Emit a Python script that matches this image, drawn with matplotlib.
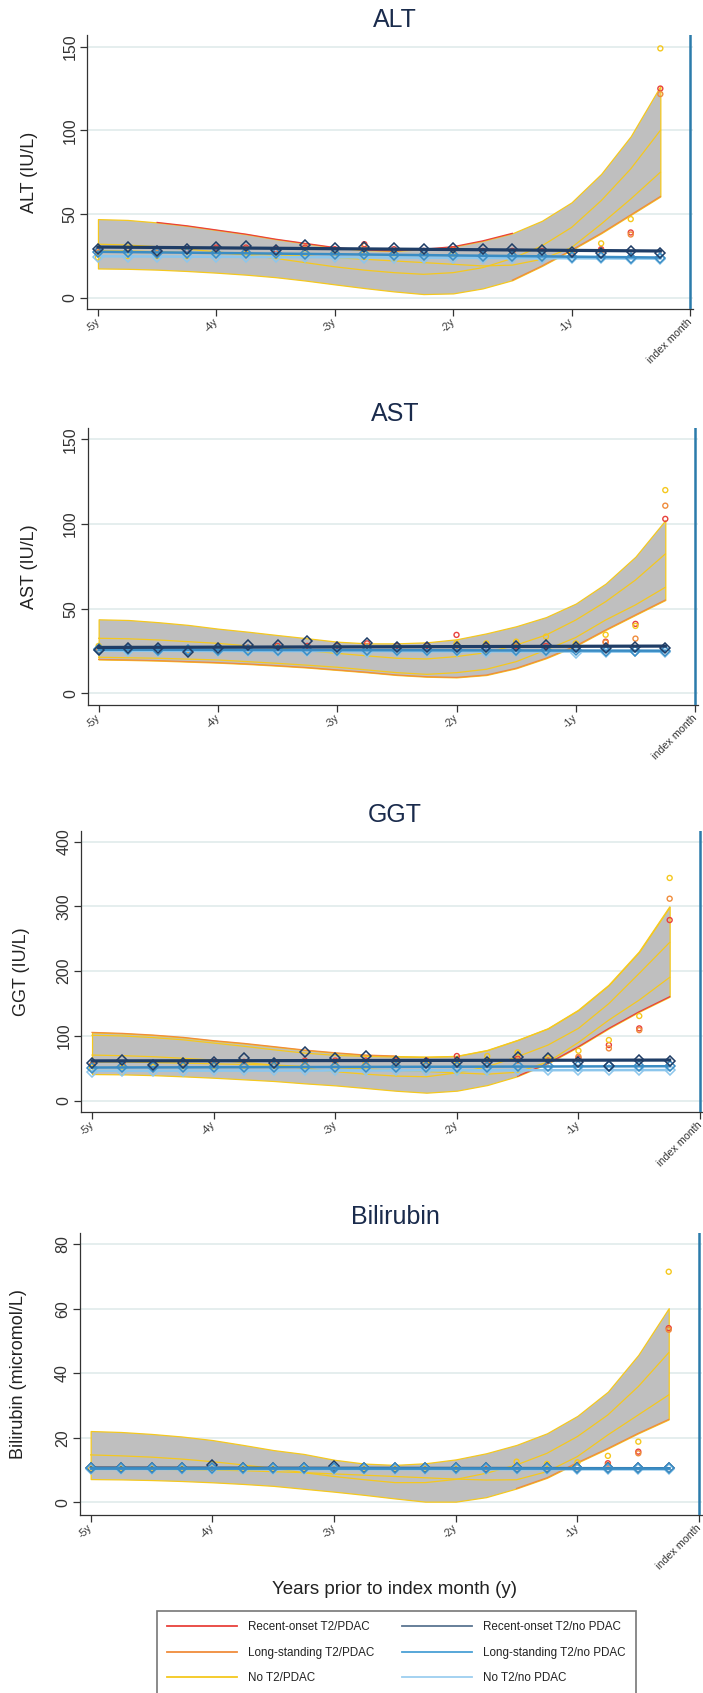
import numpy as np
import matplotlib
matplotlib.use("Agg")
import matplotlib.pyplot as plt
from matplotlib.lines import Line2D

plt.rcParams['font.family'] = ['Liberation Sans', 'DejaVu Sans']

# quarters before the index month (years)
years = [-5.0, -4.75, -4.5, -4.25, -4.0, -3.75, -3.5, -3.25, -3.0, -2.75,
         -2.5, -2.25, -2.0, -1.75, -1.5, -1.25, -1.0, -0.75, -0.5, -0.25]
tick_pos = [-5, -4, -3, -2, -1, 0]
tick_labels = ['-5y', '-4y', '-3y', '-2y', '-1y', 'index month']

series_names = ['Recent-onset T2/PDAC', 'Long-standing T2/PDAC', 'No T2/PDAC',
                'Recent-onset T2/no PDAC', 'Long-standing T2/no PDAC', 'No T2/no PDAC']

# ---- ALT
alt_upper = [47, 46.5, 45, 43, 40.5, 38, 35, 32.5, 30, 28.5, 28, 29, 30.5, 34, 38.5, 46, 57, 74, 96.5, 126.5]
alt_lower = [17.5, 17.3, 16.8, 16, 15, 13.8, 12.3, 10.3, 8, 5.8, 3.8, 2.2, 2.6, 5.6, 10.5, 19, 28.5, 38.5, 49.5, 60.5]
alt_mid1 = [32, 31.5, 30.5, 29, 27.5, 25.5, 23.5, 21, 18.5, 16.5, 15, 14, 15, 18, 23.5, 31, 42, 58, 77, 100]
alt_mid2 = [28, 28, 27.5, 27, 26.5, 26, 25.5, 25, 24, 23, 22, 21, 20, 19, 19.5, 23, 30, 44, 59, 75]
alt_red = [28, 29, 28, 29, 30, 30, 29, 30, 29, 32, 29, 28, 29, 28, 28, 28, 27, 29, 39, 125]
alt_orange = [27, 28, 27, 28, 29, 29, 28, 29, 28, 31, 28, 27, 28, 27, 27, 27, 26, 28, 37.8, 121.7]
alt_yellow = [24, 25, 25, 25, 26, 26, 25, 26, 26, 27, 26, 25, 26, 25, 25, 26, 26, 32.5, 47, 149]
alt_navy = [28.9, 30.5, 28.1, 28.9, 30.5, 30.9, 28.5, 31.5, 29.9, 30.5, 29.9, 29.1, 29.5, 28.9, 28.9, 28.5, 27.5, 27, 28, 26.9]
alt_blue = [27.5, 27.5, 27, 27, 26.5, 26.5, 26.5, 26, 26, 26, 25.5, 25.5, 25.5, 25, 25, 25, 24.5, 24.5, 24, 24]
alt_light = [24.5, 24.5, 24.5, 24.5, 24.5, 24.5, 24.5, 24.5, 24.5, 24, 24, 24, 24, 24, 24, 24, 23.5, 23.5, 23, 23]

# ---- AST
ast_upper = [43.7, 43.3, 42, 40.4, 38.2, 36.4, 34.4, 32.5, 30.5, 29.5, 29.5, 30.1, 31.9, 35.4, 39.6, 45, 53, 64.8, 80.7, 102.2]
ast_lower = [20, 19.7, 19.3, 18.7, 18.1, 17.3, 16.3, 15.2, 13.8, 12.4, 10.8, 9.8, 9.4, 10.8, 14.8, 20.7, 28, 37.4, 46.3, 55.1]
ast_mid1 = [32.5, 32.2, 31.5, 30.5, 29.5, 28, 26.6, 25.1, 23.6, 22.1, 20.7, 20.3, 21.7, 24, 28.5, 34.4, 43.3, 54.1, 66.9, 82.3]
ast_mid2 = [21.3, 21, 20.7, 20.2, 19.7, 18.7, 17.7, 16.6, 15.4, 13.8, 12.2, 11.2, 12.2, 14.2, 18.7, 25.6, 33, 43.3, 52.2, 62.6]
ast_red = [26, 27, 26, 26, 27, 27, 28, 28, 28, 29.5, 28, 28, 34.5, 28, 28, 28, 27, 30.5, 41, 103]
ast_orange = [26, 26, 26, 26, 26, 27, 27, 27, 27, 28, 27, 27, 28, 27, 27, 27, 27, 30, 32.3, 110.8]
ast_yellow = [28, 26, 26, 26, 26, 26, 27, 27, 27, 27, 27, 27, 29.5, 29.5, 30.5, 33.5, 29.5, 34.6, 39.8, 120]
ast_navy = [25.6, 27, 26.5, 24.6, 26.5, 28.5, 28.5, 31, 27.5, 29.5, 27.5, 27.5, 27.5, 27.5, 28, 28.5, 27.5, 26.5, 27.5, 26.6]
ast_blue = [26, 26, 25.5, 25.5, 25.5, 25.5, 25.5, 25.5, 25.5, 25.5, 25.5, 25.5, 25.5, 25.5, 25.5, 25.5, 25.5, 25, 25, 25]
ast_light = [25.5, 25, 25, 25, 25, 25, 25, 25, 25, 24.5, 25, 25, 25, 24.5, 25, 25, 24, 24.5, 25, 24.5]

# ---- GGT
ggt_upper = [105.5, 104, 101.4, 97.8, 92.7, 88.5, 83.4, 78.2, 74, 70.5, 69, 68, 69, 78, 93.7, 111.7, 140, 178.6, 230, 299.6]
ggt_lower = [41.2, 40.7, 39.5, 37.6, 35.5, 33, 30.4, 26.8, 23.7, 19.6, 15.4, 12.4, 15.5, 24.2, 38, 57.7, 83.4, 111.7, 137.5, 160.6]
ggt_mid1 = [70.5, 69.5, 68, 65.5, 62.8, 59, 55, 50, 44.8, 41, 38, 37, 43, 52.5, 68, 86, 111.7, 150, 196.7, 244.5]
ggt_mid2 = [60, 60, 59, 58, 57, 56, 55, 53, 51, 49, 47, 45, 43, 41, 44, 60, 90, 124.6, 155.5, 190.5]
ggt_mid3 = [101, 100, 97.5, 94, 89, 84, 78.5, 73.5, 70, 68.5, 67.5, 67, 68.5, 77.5, 93, 111, 139.5, 178, 229.5, 299]
ggt_red = [55, 58, 56, 58, 60, 60, 60, 62, 62, 62, 62, 62, 69, 62, 65, 62, 65.4, 86, 111.7, 279]
ggt_orange = [55, 57, 55, 57, 58, 58, 58, 60, 60, 60, 60, 60, 62, 62, 62, 62, 68, 80.8, 109, 312]
ggt_yellow = [50, 52, 52, 53, 53, 54, 54, 55, 55, 56, 56, 57, 60, 69, 74.6, 66, 77.2, 93.7, 130.8, 344]
ggt_navy = [57.5, 63.5, 55, 57.5, 60, 65.5, 59, 75.5, 65.5, 69.5, 61.5, 59, 60, 60, 68, 66.5, 60, 54, 63, 62]
ggt_blue = [50, 52, 52, 52, 52, 52, 52, 52, 52, 52, 52, 52, 52, 52, 53, 53, 53, 53, 53, 54]
ggt_light = [45, 46, 46, 46, 47, 47, 47, 47, 47, 47, 47, 47, 47, 47, 47, 47, 47, 47, 47, 47]

# ---- Bilirubin
bil_upper = [22.1, 21.8, 21.2, 20.4, 19.3, 17.8, 16.2, 15, 13.2, 12, 11.6, 12.1, 13.3, 15.2, 17.8, 21.4, 26.8, 34.3, 45.7, 60.2]
bil_lower = [7.2, 7.1, 6.9, 6.6, 6.2, 5.7, 5.1, 4.2, 3.3, 2.3, 1.2, 0.2, 0.2, 1.6, 4.3, 7.6, 12.3, 16.7, 21.4, 25.7]
bil_mid1 = [14.7, 14.4, 14, 13.4, 12.6, 11.6, 10.5, 9.2, 8, 7, 6.1, 6.1, 7.1, 9, 11.6, 15.2, 20.4, 27.1, 35.9, 46.4]
bil_mid2 = [10.5, 10.5, 10.3, 10.1, 10, 9.8, 9.5, 9.2, 8.8, 8.4, 8, 7.6, 7.2, 6.9, 7, 9.5, 14.2, 20.9, 27.1, 33.3]
bil_red = [10.5, 10.5, 10.5, 10.5, 11, 10.5, 10.5, 10.5, 11, 10.5, 10.5, 10.5, 10.5, 10.5, 11, 11, 11, 12.1, 15.7, 54]
bil_orange = [10.5, 10.5, 10.5, 10.5, 10.8, 10.5, 10.5, 10.5, 10.8, 10.5, 10.5, 10.5, 10.5, 10.5, 10.8, 10.8, 10.8, 11.6, 15.2, 53.5]
bil_yellow = [10.5, 10.5, 10.5, 10.5, 10.8, 10.5, 10.5, 10.5, 10.8, 10.5, 10.5, 10.5, 10.5, 11, 12.6, 11.9, 12.4, 14.4, 18.8, 71.5]
bil_navy = [10.6, 10.6, 10.6, 10.6, 11.5, 10.6, 10.6, 10.6, 11.3, 10.6, 10.6, 10.6, 10.6, 10.6, 10.6, 10.6, 10.6, 10.6, 10.6, 10.6]
bil_blue = [10.5, 10.5, 10.5, 10.5, 10.5, 10.5, 10.5, 10.5, 10.5, 10.5, 10.5, 10.5, 10.5, 10.5, 10.5, 10.5, 10.5, 10.5, 10.5, 10.5]
bil_light = [10.3, 10.3, 10.3, 10.3, 10.3, 10.3, 10.3, 10.3, 10.3, 10.3, 10.3, 10.3, 10.3, 10.2, 10.2, 10.2, 10.2, 10.2, 10.2, 10.2]

RED, ORANGE, YELLOW = '#e8413c', '#f08c3c', '#f5c81e'
NAVY, BLUE, LIGHT = '#1f3d66', '#3a8cc4', '#8cc6ec'
GREY = '#bfbfbf'

W, H = 703, 1693
fig = plt.figure(figsize=(W / 100, H / 100), dpi=100)


def rect(left, right, top, bottom):
    return [left / W, 1 - bottom / H, (right - left) / W, (bottom - top) / H]


panels = [
    dict(title='ALT', ylabel='ALT (IU/L)', box=(87.3, 692.9, 35, 309.3), ylim=(-6.9, 157),
         yticks=[0, 50, 100, 150], title_y=27, ylab_x=29,
         upper=alt_upper, lower=alt_lower, mids=[alt_mid1, alt_mid2],
         over=[(alt_upper, RED, 2, 15), (alt_lower, ORANGE, 14, 20)],
         pdac=[alt_red, alt_orange, alt_yellow],
         nopdac=[(alt_light, LIGHT, 1.8), (alt_blue, BLUE, 1.8), (alt_navy, NAVY, 2.3)]),
    dict(title='AST', ylabel='AST (IU/L)', box=(87.9, 698.1, 428.3, 705), ylim=(-6.9, 156.5),
         yticks=[0, 50, 100, 150], title_y=421, ylab_x=29,
         upper=ast_upper, lower=ast_lower, mids=[ast_mid1, ast_mid2],
         over=[(ast_lower, ORANGE, 0, 20)],
         pdac=[ast_red, ast_orange, ast_yellow],
         nopdac=[(ast_light, LIGHT, 1.8), (ast_blue, BLUE, 1.8), (ast_navy, NAVY, 2.3)]),
    dict(title='GGT', ylabel='GGT (IU/L)', box=(81.1, 703.1, 830.7, 1112.3), ylim=(-17.9, 417),
         yticks=[0, 100, 200, 300, 400], title_y=822, ylab_x=21.5,
         upper=ggt_upper, lower=ggt_lower, mids=[ggt_mid1, ggt_mid2, ggt_mid3],
         over=[(ggt_upper, ORANGE, 0, 11), (ggt_lower, RED, 14, 20)],
         pdac=[ggt_red, ggt_orange, ggt_yellow],
         nopdac=[(ggt_light, LIGHT, 1.8), (ggt_blue, BLUE, 1.8), (ggt_navy, NAVY, 2.3)]),
    # bilirubin: the blue groups sit on top of the navy one
    dict(title='Bilirubin', ylabel='Bilirubin (micromol/L)', box=(79.7, 702.2, 1232.7, 1515),
         ylim=(-3.94, 83.6), yticks=[0, 20, 40, 60, 80], title_y=1224, ylab_x=18.5,
         upper=bil_upper, lower=bil_lower, mids=[bil_mid1, bil_mid2],
         over=[(bil_lower, ORANGE, 14, 20)],
         pdac=[bil_red, bil_orange, bil_yellow],
         nopdac=[(bil_navy, NAVY, 1.6), (bil_light, LIGHT, 1.8), (bil_blue, BLUE, 2.0)]),
]

x = np.array(years)
for p in panels:
    l, r, t, b = p['box']
    ax = fig.add_axes(rect(l, r, t, b))
    ax.set_xlim(-5.09, 0.025)
    ax.set_ylim(*p['ylim'])

    # grey confidence band and fitted curves
    ax.fill_between(x, p['lower'], p['upper'], facecolor=GREY, edgecolor=YELLOW, lw=0.9, zorder=1)
    for m in p['mids']:
        ax.plot(x, m, color=YELLOW, lw=0.9, zorder=2)
    for arr, col, i0, i1 in p['over']:
        ax.plot(x[i0:i1], arr[i0:i1], color=col, lw=0.9, zorder=2)

    # PDAC group means
    for vals, col in zip(p['pdac'], [RED, ORANGE, YELLOW]):
        ax.scatter(x, vals, s=13, facecolors='none', edgecolors=col, linewidths=1.0, zorder=3)

    # no PDAC groups: means + linear fit
    for vals, col, lw in p['nopdac']:
        coef = np.polyfit(x, vals, 1)
        ax.plot(x, np.polyval(coef, x), color=col, lw=lw, zorder=4)
        ax.plot(x, vals, ls='none', marker='D', ms=4.8, mfc='none', mec=col, mew=1.1, zorder=4)

    ax.axvline(0, color='#2b7bab', lw=1.8, zorder=5)

    ax.set_yticks(p['yticks'])
    ax.set_xticks(tick_pos)
    ax.set_xticklabels(tick_labels, rotation=45, ha='right', rotation_mode='anchor', va='center')
    for lab in ax.get_yticklabels():
        lab.set_rotation(90)
        lab.set_va('center')
    ax.tick_params(axis='y', length=5, width=0.9, pad=2, labelsize=11.5, colors='#333333')
    ax.tick_params(axis='x', length=5, width=0.9, pad=3, labelsize=7.7, colors='#333333')
    ax.yaxis.grid(True, color='#e3eded', lw=1.3)
    ax.set_axisbelow(True)
    for s in ['top', 'right']:
        ax.spines[s].set_visible(False)
    for s in ['left', 'bottom']:
        ax.spines[s].set_color('#333333')
        ax.spines[s].set_linewidth(0.9)

    fig.text(395 / W, 1 - p['title_y'] / H, p['title'], ha='center', va='baseline',
             fontsize=18, color='#1a2b4c')
    fig.text(p['ylab_x'] / W, 1 - (t + b) / 2 / H, p['ylabel'], rotation=90,
             ha='center', va='center', fontsize=13, color='#222222')

fig.text(395 / W, 1 - 1590 / H, 'Years prior to index month (y)', ha='center', va='center',
         fontsize=13.5, color='#222222')

handles = [Line2D([], [], color=c, lw=1.3) for c in
           [RED, ORANGE, YELLOW, '#5b7591', '#4aa0d5', '#9dcff0']]
leg = fig.legend(handles, series_names, ncol=2, loc='upper left',
                 bbox_to_anchor=(157 / W, 1 - 1611 / H), borderaxespad=0,
                 fontsize=8.35, handlelength=6.0, handletextpad=0.95, columnspacing=2.43,
                 labelspacing=1.15, borderpad=0.9, fancybox=False, frameon=True)
leg.get_frame().set_edgecolor('#555555')
leg.get_frame().set_linewidth(1.2)
for t in leg.get_texts():
    t.set_color('#222222')

fig.savefig('out.png', dpi=100)
